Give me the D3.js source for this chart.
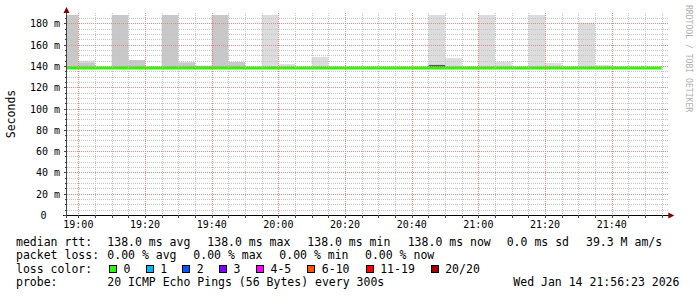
<!DOCTYPE html>
<html>
<head>
    <title>Smokeping median rtt</title>
    <script src="https://d3js.org/d3.v7.min.js"></script>
    <style>
        body { margin: 0; background: #fff; }
        text { font-family: "DejaVu Sans Mono", monospace; }
    </style>
</head>
<body>
    <script>
// 5 minute steps (start of each step)
let stepTimes = ["18:55","19:00","19:05","19:10","19:15","19:20","19:25","19:30","19:35","19:40",
                 "19:45","19:50","19:55","20:00","20:05","20:10","20:15","20:20","20:25","20:30",
                 "20:35","20:40","20:45","20:50","20:55","21:00","21:05","21:10","21:15","21:20",
                 "21:25","21:30","21:35","21:40","21:45","21:50"];
// median rtt in ms for each step
let medianMs = [138,138,138,138,138,138,138,138,138,138,138,138,138,138,138,138,138,138,
                138,138,138,138,138,138,138,138,138,138,138,138,138,138,138,138,138,138];
// smoke: top of the darker band, lighter band and densest core (ms), null = no smoke
let darkTop  = [190,143,null,190,145.6,null,190,143,140.3,190,143.7,null,null,null,null,null,null,null,
                null,null,null,null,null,null,null,null,null,null,null,null,null,null,null,null,null,null];
let lightTop = [null,145,null,null,null,null,null,144,null,null,null,null,190,141.8,null,148.4,null,null,
                null,null,null,null,190,147.4,null,190,144,null,190,142.7,null,180.6,140.8,null,null,null];
let coreTop  = [null,null,null,null,null,null,null,null,null,null,null,null,null,null,null,null,null,null,
                null,null,null,null,141,null,null,null,null,null,null,null,null,null,null,null,null,null];

let yMajor = [0,20,40,60,80,100,120,140,160,180];
let xLabels = ["19:00","19:20","19:40","20:00","20:20","20:40","21:00","21:20","21:40"];

let lossLabels = ["0","1","2","3","4-5","6-10","11-19","20/20"];
let lossColors = ["#26ff00","#00b8ff","#0059ff","#7e00ff","#ff00ff","#ff5500","#ff0000","#a10000"];

let legendRtt  = ["138.0 ms avg","138.0 ms max","138.0 ms min","138.0 ms now","0.0 ms sd","39.3 M am/s"];
let legendLoss = ["0.00 % avg","0.00 % max","0.00 % min","0.00 % now"];

let W = 697, H = 297;
let pLeft = 66.3, pRight = 666.3, pTop = 15, pBottom = 215;

let parse = t => {
    let p = t.split(":");
    return new Date(2026, 0, 14, +p[0], +p[1], +(p[2] || 0));
};
let t0 = parse("18:56:23"), t1 = parse("21:56:23");

let x = d3.scaleTime().domain([t0, t1]).range([pLeft, pRight]);
let y = d3.scaleLinear().domain([0, 187.9]).range([pBottom, pTop]);

let svg = d3.select("body").append("svg")
    .attr("width", W).attr("height", H)
    .style("display", "block");

svg.append("defs").append("clipPath").attr("id", "plot")
    .append("rect").attr("x", pLeft).attr("y", pTop)
    .attr("width", pRight - pLeft).attr("height", pBottom - pTop);

let steps = stepTimes.map((t, i) => ({
    t0: parse(t), t1: new Date(parse(t).getTime() + 300000),
    med: medianMs[i], dark: darkTop[i], light: lightTop[i], core: coreTop[i]
}));

let plot = svg.append("g").attr("clip-path", "url(#plot)");

function band(key, color) {
    plot.selectAll(null)
        .data(steps.filter(d => d[key] != null))
        .enter().append("rect")
        .attr("x", d => x(d.t0))
        .attr("width", d => x(d.t1) - x(d.t0))
        .attr("y", d => y(d[key]))
        .attr("height", d => y(d.med) - y(d[key]))
        .attr("fill", color);
}
band("light", "#dcdcdc");
band("dark", "#c8c8c8");
band("core", "#5a5a5a");

// grid, dotted (1 on, 1 off), drawn over the smoke
let minorY = d3.range(5, 190, 5).filter(v => v % 20 != 0);
let minorX = d3.timeMinute.every(5).range(t0, t1).filter(d => d.getMinutes() % 20 != 0);
let majorX = d3.timeMinute.every(20).range(t0, t1);
let px = v => Math.round(v) + 0.5;

// dots built as tiny segments so every pixel lands on the grid
function vDots(xx) {
    let gx = Math.round(xx) + 0.5, s = "";
    for (let yy = 13; yy < pBottom; yy += 2) s += `M${gx},${yy}v1`;
    return s;
}
function hDots(yy) {
    let gy = Math.round(yy) + 0.5, s = "";
    for (let xx = Math.round(pLeft) + 1; xx < pRight + 2; xx += 2) s += `M${xx},${gy}h1`;
    return s;
}

let grid = svg.append("g").attr("fill", "none").attr("stroke-width", 1);
grid.append("path").attr("stroke", "#c4c4c4")
    .attr("d", minorX.map(d => vDots(x(d))).join("") + minorY.map(d => hDots(y(d))).join(""));
grid.append("path").attr("stroke", "#e88585")
    .attr("d", majorX.map(d => vDots(x(d))).join("") + yMajor.filter(v => v > 0).map(d => hDots(y(d))).join(""));

// median line coloured by loss
let medLine = d3.line().curve(d3.curveStepAfter)
    .x(d => x(d.t)).y(d => y(d.v));
let medPts = steps.map(d => ({t: d.t0, v: d.med}));
medPts.push({t: steps[steps.length - 1].t1, v: steps[steps.length - 1].med});
plot.append("path").datum(medPts)
    .attr("d", medLine)
    .attr("fill", "none")
    .attr("stroke", lossColors[0])
    .attr("stroke-width", 3);

// axes
let ax = px(pLeft);
let axes = svg.append("g").attr("shape-rendering", "crispEdges");
axes.append("line").attr("x1", ax).attr("x2", ax).attr("y1", pBottom + 3).attr("y2", 11)
    .attr("stroke", "#444");
axes.append("line").attr("x1", pLeft - 3).attr("x2", pRight + 4).attr("y1", pBottom + 0.5).attr("y2", pBottom + 0.5)
    .attr("stroke", "#000");
axes.selectAll(null).data(yMajor).enter().append("line")
    .attr("x1", ax - 3).attr("x2", ax)
    .attr("y1", d => px(y(d))).attr("y2", d => px(y(d)))
    .attr("stroke", "#444");
axes.selectAll(null).data(minorY).enter().append("line")
    .attr("x1", ax - 1.5).attr("x2", ax)
    .attr("y1", d => px(y(d))).attr("y2", d => px(y(d)))
    .attr("stroke", "#444");
axes.selectAll(null).data(majorX.concat(minorX)).enter().append("line")
    .attr("x1", d => px(x(d))).attr("x2", d => px(x(d)))
    .attr("y1", pBottom).attr("y2", pBottom + 2.5)
    .attr("stroke", "#444");
svg.append("path").attr("d", `M${ax - 3},13 L${ax},7 L${ax + 3},13 Z`).attr("fill", "#7f0000");
svg.append("path").attr("d", `M${pRight + 2},${pBottom - 2.5} L${pRight + 8},${pBottom + 0.5} L${pRight + 2},${pBottom + 3.5} Z`)
    .attr("fill", "#7f0000");

// axis labels
svg.selectAll(null).data(yMajor).enter().append("text")
    .attr("x", d => d == 0 ? 46.5 : 60)
    .attr("y", d => y(d) + 4)
    .attr("text-anchor", "end")
    .attr("font-size", 10)
    .attr("fill", "#000")
    .text(d => d == 0 ? "0" : d + " m");

svg.selectAll(null).data(xLabels).enter().append("text")
    .attr("x", d => x(parse(d)))
    .attr("y", 228)
    .attr("text-anchor", "middle")
    .attr("font-size", 10)
    .attr("fill", "#000")
    .text(d => d);

svg.append("text")
    .attr("transform", "translate(15,114) rotate(-90)")
    .attr("text-anchor", "middle")
    .attr("font-size", 11.5)
    .text("Seconds");

svg.append("text")
    .attr("transform", "translate(686,5) rotate(90)")
    .attr("font-size", 8.1)
    .attr("fill", "#b0b0b0")
    .text("RRDTOOL / TOBI OETIKER");

// legend
let fs = 11.5;
let row = [245.5, 259, 272.5, 286];
let leg = svg.append("g").attr("font-size", fs).attr("fill", "#000").attr("xml:space", "preserve");
leg.append("text").attr("x", 16).attr("y", row[0]).text("median rtt:");
let rttX = [107.3, 207.3, 307.3, 407.7, 506.7, 586];
legendRtt.forEach((s, i) => leg.append("text").attr("x", rttX[i]).attr("y", row[0]).text(s));

leg.append("text").attr("x", 16).attr("y", row[1]).text("packet loss:");
let lossX = [107.3, 193.3, 279.3, 365];
legendLoss.forEach((s, i) => leg.append("text").attr("x", lossX[i]).attr("y", row[1]).text(s));

leg.append("text").attr("x", 16).attr("y", row[2]).text("loss color:");
let boxX = [109, 145.7, 182.3, 219, 256, 307.3, 365.7, 430.7];
lossLabels.forEach((s, i) => {
    leg.append("rect").attr("x", Math.round(boxX[i]) + 0.5).attr("y", 265.5).attr("width", 7).attr("height", 7)
        .attr("fill", lossColors[i]).attr("stroke", "#000");
    leg.append("text").attr("x", boxX[i] + 14.5).attr("y", row[2]).text(s);
});

leg.append("text").attr("x", 16).attr("y", row[3]).text("probe:");
leg.append("text").attr("x", 107.3).attr("y", row[3]).text("20 ICMP Echo Pings (56 Bytes) every 300s");
leg.append("text").attr("x", 513.3).attr("y", row[3]).text("Wed Jan 14 21:56:23 2026");
    </script>
</body>
</html>
